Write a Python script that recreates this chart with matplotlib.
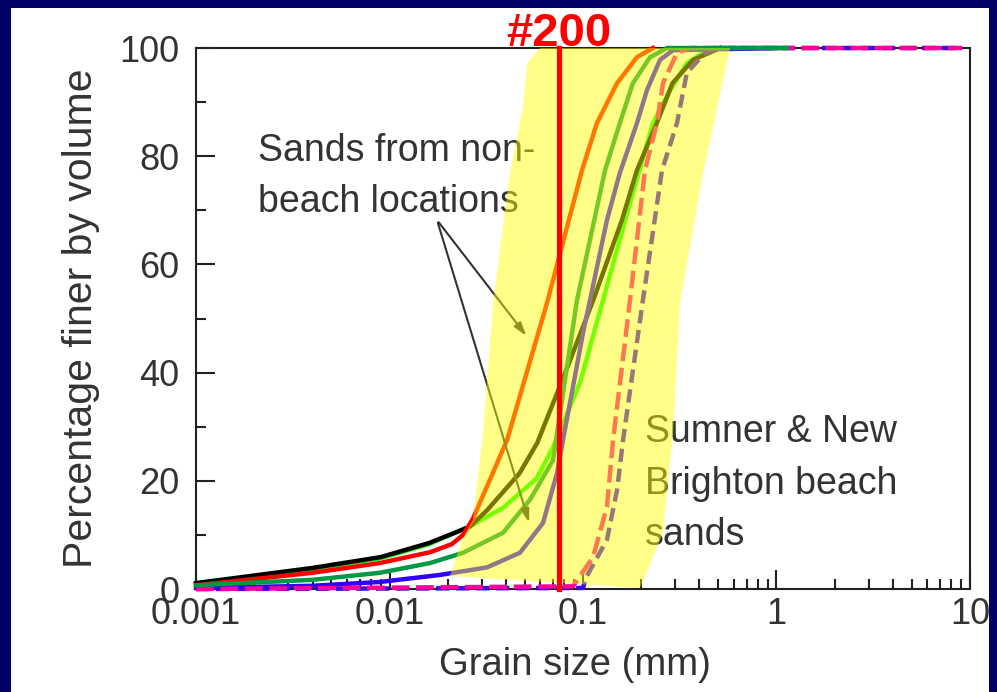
import numpy as np
import matplotlib
matplotlib.use("Agg")
import matplotlib.pyplot as plt
from matplotlib.patches import Rectangle
from matplotlib.ticker import FixedLocator, FuncFormatter

plt.rcParams['font.family'] = ['Liberation Sans', 'DejaVu Sans']

# Grain size (mm) vs percentage finer
black_x = [0.001, 0.004, 0.009, 0.016, 0.026, 0.032, 0.047, 0.058, 0.081, 0.113, 0.159, 0.19, 0.24, 0.29, 0.37, 0.51]
black_y = [1.1, 3.9, 5.9, 8.5, 11.5, 14.6, 21.4, 27.0, 40.0, 53.4, 68.2, 77.4, 86.0, 93.5, 97.8, 100]

red_x = [0.001, 0.004, 0.0089, 0.0162, 0.021, 0.024, 0.027, 0.0405, 0.0652, 0.0988, 0.118, 0.150, 0.190, 0.230]
red_y = [0.7, 3.0, 4.8, 6.8, 8.3, 10.0, 13.0, 27.5, 52.9, 77.4, 86.1, 93.5, 98.3, 100]

green_x = [0.001, 0.004, 0.0089, 0.0162, 0.024, 0.0386, 0.0532, 0.070, 0.0807, 0.0931, 0.130, 0.155, 0.181, 0.222, 0.272, 1.13]
green_y = [0.7, 1.7, 3.0, 4.8, 6.7, 10.4, 16.5, 23.8, 38.6, 53.4, 77.4, 86.1, 93.5, 98.3, 100, 100]

lime_x = [0.001, 0.004, 0.009, 0.016, 0.026, 0.0386, 0.0578, 0.070, 0.0965, 0.127, 0.175, 0.230, 0.282, 0.344, 0.417, 0.481]
lime_y = [1.0, 3.7, 5.7, 8.3, 11.6, 15.0, 20.5, 26.2, 38.1, 53.4, 71.3, 86.1, 92.2, 97.2, 99.1, 100]

blue_x = [0.001, 0.004, 0.0089, 0.0182, 0.0319, 0.0472, 0.0621, 0.0734, 0.0788, 0.1, 0.133, 0.155, 0.190, 0.214, 0.250, 0.292, 1.0]
blue_y = [0.2, 0.6, 1.3, 2.6, 4.0, 6.7, 12.2, 21.4, 27.5, 47.3, 68.2, 76.9, 86.1, 92.2, 97.8, 99.6, 100]

bluedash_x = [0.001, 0.1, 0.104, 0.133, 0.150, 0.161, 0.204, 0.256, 0.306, 0.344, 0.427, 0.51, 9.1]
bluedash_y = [0, 0.2, 2.2, 9.1, 18.3, 27.5, 53.4, 77.4, 86.1, 95.4, 99.1, 100, 100]

magenta_x = [0.001, 0.0888, 0.1127, 0.133, 0.143, 0.175, 0.209, 0.241, 0.259, 0.306, 0.357, 9.1]
magenta_y = [0, 0.5, 5.9, 15.2, 27.5, 53.4, 77.4, 86.1, 93.5, 99.1, 100, 100]

# Band of beach sands
band_x = [0.060, 0.575, 0.417, 0.317, 0.292, 0.259, 0.197, 0.0205, 0.0237, 0.027, 0.0304, 0.0343, 0.042, 0.049, 0.0514]
band_y = [100, 100, 76.9, 52.9, 28.8, 10.4, 0.2, 2.4, 9.1, 12.8, 28.8, 52.9, 77.1, 89.1, 97.2]

sieve_200 = 0.075
xticks = [0.001, 0.01, 0.1, 1, 10]
yticks = [0, 20, 40, 60, 80, 100]

fig = plt.figure(figsize=(9.97, 6.92), dpi=100)
fig.patch.set_facecolor('#000066')
fig.patches.append(Rectangle((11 / 997, 0), 978 / 997, 684 / 692, transform=fig.transFigure,
                             facecolor='white', edgecolor='none', zorder=-10))
ax = fig.add_axes([0.1966, 0.1488, 0.7763, 0.7818])
ax.set_facecolor('white')

lw = 3.2
ax.plot(lime_x, lime_y, color='#00ff00', lw=lw, zorder=2, clip_on=False)
ax.plot(black_x, black_y, color='black', lw=lw, zorder=3, clip_on=False)
ax.plot(red_x, red_y, color='#ff0000', lw=lw, zorder=3, clip_on=False)
ax.plot(blue_x, blue_y, color='#3000ff', lw=lw, zorder=3, clip_on=False)
ax.plot(bluedash_x, bluedash_y, color='#4000e0', lw=lw, ls=(0, (3, 1.5)), zorder=3, clip_on=False)
ax.plot(magenta_x, magenta_y, color='#ff0099', lw=lw, ls=(0, (4, 1.5)), zorder=4, clip_on=False)
ax.plot(green_x, green_y, color='#009944', lw=lw, zorder=5, clip_on=False)

# annotations
ax.text(0.00209, 84.3, "Sands from non-\nbeach locations", fontsize=27, color='#333333',
        ha='left', va='top', linespacing=1.55, zorder=5)
ax.text(0.209, 32.3, "Sumner & New\nBrighton beach\nsands", fontsize=27, color='#333333',
        ha='left', va='top', linespacing=1.55, zorder=5)
for tx, ty in [(0.052, 46.4), (0.0532, 11.8)]:
    ax.annotate("", xy=(tx, ty), xytext=(0.0176, 68.2),
                arrowprops=dict(arrowstyle='-|>,head_length=0.8,head_width=0.25',
                                color='#333333', lw=1.5), zorder=5)

ax.fill(band_x, band_y, color='#ffff00', alpha=0.47, lw=0, zorder=6)

ax.plot([sieve_200, sieve_200], [0, 100], color='#ff0000', lw=3.8, zorder=7, clip_on=False)
ax.text(sieve_200, 100.3, "#200", color='#ff0000', fontsize=34, fontweight='bold',
        ha='center', va='baseline', zorder=8)

ax.set_xscale('log')
ax.set_xlim(0.001, 10)
ax.set_ylim(0, 100)
ax.xaxis.set_major_locator(FixedLocator(xticks))
ax.xaxis.set_major_formatter(FuncFormatter(lambda v, p: f"{v:g}"))
ax.set_yticks(yticks)
ax.set_yticks(range(10, 100, 20), minor=True)
ax.tick_params(which='both', direction='in', width=1.5, colors='#222222', labelsize=26,
               top=False, right=False)
ax.tick_params(axis='both', labelcolor='#333333')
ax.tick_params(which='major', length=14)
ax.tick_params(which='minor', length=7)
ax.tick_params(axis='y', pad=12)
ax.tick_params(axis='x', pad=6)
for s in ax.spines.values():
    s.set_linewidth(1.5)
    s.set_color('#222222')

ax.set_xlabel("Grain size (mm)", fontsize=27.5, color='#333333')
ax.set_ylabel("Percentage finer by volume", fontsize=29.5, color='#333333')
ax.xaxis.set_label_coords(0.49, -0.108)
ax.yaxis.set_label_coords(-0.124, 0.5)

fig.savefig("out.png", dpi=100, facecolor=fig.get_facecolor())
